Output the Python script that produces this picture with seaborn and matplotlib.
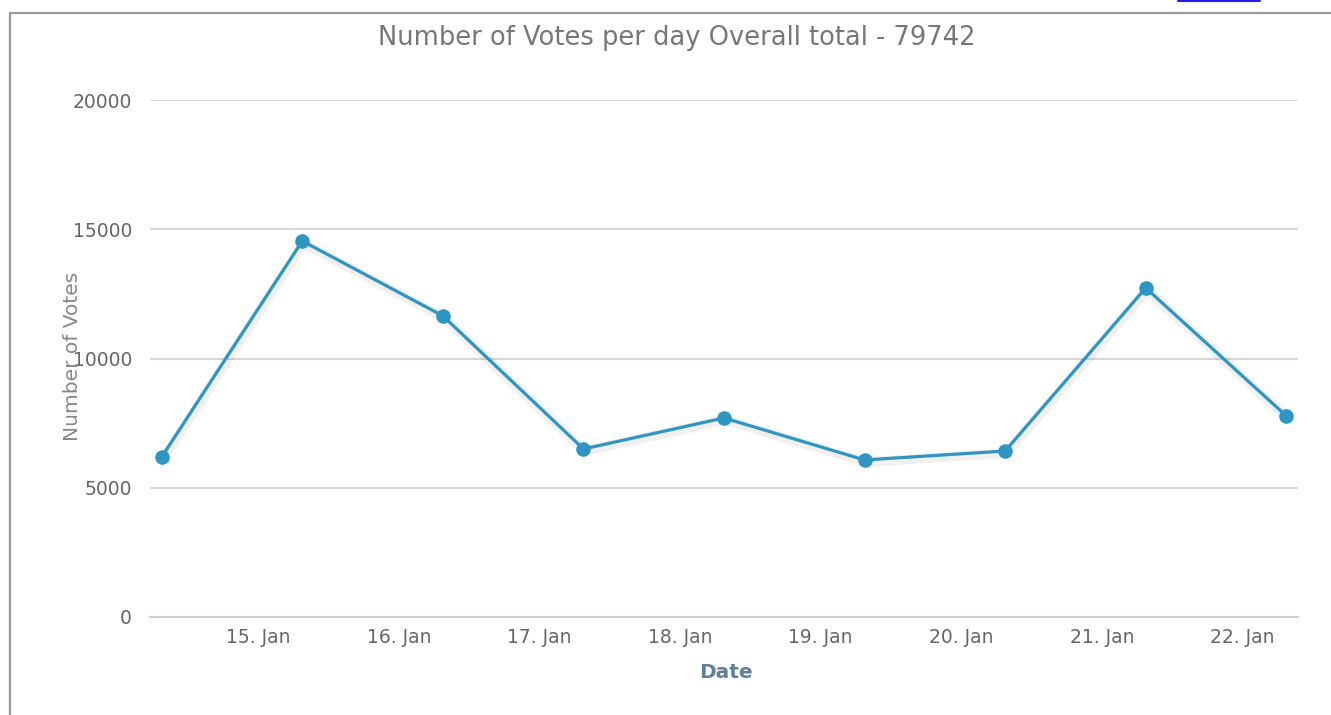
import matplotlib
matplotlib.use("Agg")
import matplotlib.pyplot as plt
import matplotlib.dates as mdates
import matplotlib.patheffects as pe
from matplotlib.lines import Line2D
import pandas as pd
import seaborn as sns

# Data
dates = ['2014-01-14 07:30', '2014-01-15 07:30', '2014-01-16 07:30',
         '2014-01-17 07:30', '2014-01-18 07:30', '2014-01-19 07:30',
         '2014-01-20 07:30', '2014-01-21 07:30', '2014-01-22 07:30']
votes = [6190, 14545, 11650, 6500, 7700, 6075, 6420, 12730, 7780]
overall_total = 79742
tick_days = ['2014-01-15', '2014-01-16', '2014-01-17', '2014-01-18',
             '2014-01-19', '2014-01-20', '2014-01-21', '2014-01-22']
y_ticks = [0, 5000, 10000, 15000, 20000]

df = pd.DataFrame({'date': pd.to_datetime(dates), 'votes': votes})

sns.set_style("white")
plt.rcParams['font.family'] = ['DejaVu Sans']

fig = plt.figure(figsize=(13.31, 7.15), dpi=100)
ax = fig.add_axes([150 / 1331, 1 - 617 / 715, 1148 / 1331, 517 / 715])

line_color = '#2f95c2'
# line with a soft shadow, then the markers on top
sns.lineplot(data=df, x='date', y='votes', ax=ax, color=line_color, linewidth=2.3)
ax.lines[0].set_path_effects([
    pe.SimpleLineShadow(offset=(1, -1.5), shadow_color='black', alpha=0.06, linewidth=7),
    pe.Normal()])
sns.scatterplot(data=df, x='date', y='votes', ax=ax, color=line_color, s=110,
                linewidth=0, zorder=4)

# axes limits and ticks
pad = pd.Timedelta(hours=2)
ax.set_xlim(df['date'].iloc[0] - pad, df['date'].iloc[-1] + pad)
ax.set_ylim(0, 20000)
ax.set_yticks(y_ticks)
ax.set_yticklabels([str(v) for v in y_ticks])
ax.set_xticks(pd.to_datetime(tick_days))
ax.xaxis.set_major_formatter(mdates.DateFormatter('%d. %b'))

ax.grid(axis='y', color='#d6d6d6', linewidth=1.5)
ax.grid(axis='x', visible=False)
for side in ['left', 'right', 'top']:
    ax.spines[side].set_visible(False)
ax.spines['bottom'].set_color('#c0d0e0')
ax.spines['bottom'].set_linewidth(1.5)
ax.spines['bottom'].set_zorder(3)

ax.tick_params(axis='y', length=0, pad=13, labelsize=13.5, labelcolor='#666666')
ax.tick_params(axis='x', length=6, width=1.2, color='#c0d0e0', pad=2,
               labelsize=13.5, labelcolor='#666666')
ax.set_xlabel('')
ax.set_ylabel('')

# titles as figure text (the y label overlaps the 10000 label, as in the original)
fig.text(677 / 1331, 1 - 38 / 715, 'Number of Votes per day Overall total - %d' % overall_total,
         ha='center', va='center', fontsize=18.5, color='#777777')
fig.text(72 / 1331, 1 - 356 / 715, 'Number of Votes', rotation=90,
         ha='center', va='center', fontsize=14.5, color='#888888')
fig.text(726 / 1331, 1 - 672 / 715, 'Date', ha='center', va='center',
         fontsize=14.5, fontweight='bold', color='#5e7f9e')

# page frame and link underline at top
fig.add_artist(Line2D([10 / 1331, 10 / 1331], [0, 1 - 13 / 715], color='#9a9a9a', linewidth=1.6))
fig.add_artist(Line2D([10 / 1331, 1], [1 - 13 / 715, 1 - 13 / 715], color='#9a9a9a', linewidth=1.6))
fig.add_artist(Line2D([1178 / 1331, 1260 / 1331], [1 - 0.5 / 715, 1 - 0.5 / 715], color='#2222ee', linewidth=1.5))

fig.savefig('out.png', dpi=100)
